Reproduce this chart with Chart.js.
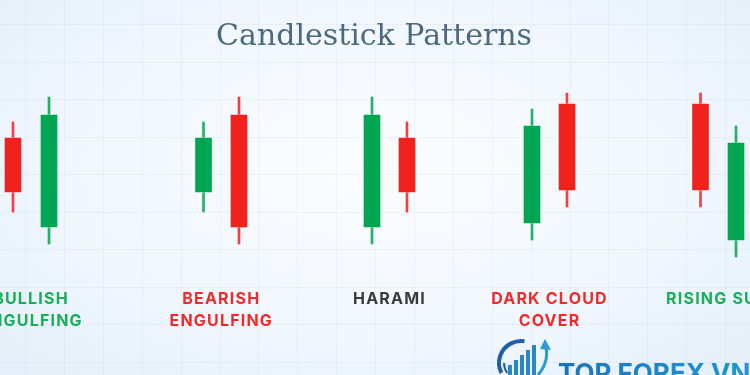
<!DOCTYPE html>
<html lang="en">
<head>
    <meta charset="UTF-8">
    <title>Candlestick Patterns</title>
    <script src="https://cdn.jsdelivr.net/npm/chart.js"></script>
    <style>
        html, body { margin: 0; padding: 0; }
        body {
            width: 750px; height: 375px; overflow: hidden;
            background: radial-gradient(ellipse at 50% 45%, #fbfdff 0%, #f1f7fd 55%, #e4eff9 100%);
        }
        #wrap { width: 750px; height: 375px; position: relative; }
    </style>
</head>
<body>
<div id="wrap"><canvas id="candles"></canvas></div>
<script>
    // session positions and prices (price = height above bottom edge)
    const sessions = [13, 49, 203.5, 239, 372, 407, 532, 567, 700.5, 736];
    const openPrices  = [238, 147, 182, 261, 147, 238, 151, 272, 272, 134];
    const closePrices = [182, 261, 238, 147, 261, 182, 250, 184, 184, 233];
    const highPrices  = [253, 278, 253, 278, 278, 253, 266, 282, 282, 249];
    const lowPrices   = [163, 131, 163, 131, 131, 163, 135, 168, 168, 118];

    // pattern labels, one per pair of candles
    const patternNames = [['BULLISH', 'ENGULFING'], ['BEARISH', 'ENGULFING'], ['HARAMI'], ['DARK CLOUD', 'COVER'], ['RISING SUN']];
    const patternColors = ['#1aae58', '#f02a2a', '#3a3a3a', '#f02a2a', '#1aae58'];

    const GREEN = '#00a651';
    const RED = '#f0221d';
    const candleColor = sessions.map((s, i) => closePrices[i] > openPrices[i] ? GREEN : RED);
    const wickColor = sessions.map((s, i) => closePrices[i] > openPrices[i] ? '#25b066' : '#f24040');

    const background = {
        id: 'background',
        beforeDraw(chart) {
            const ctx = chart.ctx;
            ctx.save();
            ctx.strokeStyle = 'rgba(190, 210, 228, 0.2)';
            ctx.lineWidth = 1;
            for (let x = 25; x < 750; x += 38.9) {
                ctx.beginPath(); ctx.moveTo(Math.round(x) + 0.5, 0); ctx.lineTo(Math.round(x) + 0.5, 375); ctx.stroke();
            }
            for (let y = 174 - 37.5 * 5; y < 375; y += 37.5) {
                ctx.beginPath(); ctx.moveTo(0, Math.round(y) + 0.5); ctx.lineTo(750, Math.round(y) + 0.5); ctx.stroke();
            }
            ctx.restore();
        }
    };

    const captions = {
        id: 'captions',
        afterDraw(chart) {
            const ctx = chart.ctx;
            const xs = chart.scales.x;
            ctx.save();
            // title
            ctx.fillStyle = '#4b6a80';
            ctx.font = '500 30px "DejaVu Serif"';
            ctx.textAlign = 'center';
            ctx.textBaseline = 'alphabetic';
            ctx.fillText('Candlestick Patterns', 374, 45);

            // pattern labels
            ctx.font = 'bold 16px Inter';
            ctx.letterSpacing = '1.2px';
            patternNames.forEach((lines, p) => {
                const cx = xs.getPixelForValue((sessions[2 * p] + sessions[2 * p + 1]) / 2);
                ctx.fillStyle = patternColors[p];
                lines.forEach((t, k) => ctx.fillText(t, cx, 304 + k * 22));
            });

            // logo
            ctx.letterSpacing = '0px';
            ctx.strokeStyle = '#1f5fa8';
            ctx.lineWidth = 4;
            ctx.beginPath();
            ctx.arc(521, 363, 22, Math.PI * 0.85, Math.PI * 1.55);
            ctx.stroke();
            ctx.lineWidth = 2;
            ctx.beginPath();
            ctx.arc(521, 363, 17, Math.PI * 0.8, Math.PI * 1.0);
            ctx.stroke();
            ctx.fillStyle = '#2a86c8';
            ctx.fillRect(508, 365, 4, 10);
            ctx.fillRect(514, 360, 4, 15);
            ctx.fillRect(520, 355, 4, 20);
            ctx.fillRect(526, 350, 4, 25);
            ctx.fillRect(532, 345, 4, 30);
            ctx.strokeStyle = '#2a9ad6';
            ctx.lineWidth = 3;
            ctx.beginPath();
            ctx.moveTo(538, 375); ctx.quadraticCurveTo(549, 362, 546, 348); ctx.stroke();
            ctx.fillStyle = '#2a9ad6';
            ctx.beginPath();
            ctx.moveTo(545, 339); ctx.lineTo(551, 350); ctx.lineTo(540, 349); ctx.closePath(); ctx.fill();
            const grad = ctx.createLinearGradient(558, 0, 750, 0);
            grad.addColorStop(0, '#1c74bb');
            grad.addColorStop(1, '#2196d3');
            ctx.fillStyle = grad;
            ctx.font = 'bold 26px Inter';
            ctx.textAlign = 'left';
            ctx.fillText('TOP FOREX VN', 558, 382);
            ctx.restore();
        }
    };

    new Chart(document.getElementById('candles').getContext('2d'), {
        type: 'bar',
        data: {
            datasets: [{
                label: 'Body',
                data: sessions.map((s, i) => ({ x: s, y: [openPrices[i], closePrices[i]] })),
                backgroundColor: candleColor,
                borderColor: 'rgba(255,255,255,0.35)',
                borderWidth: 1,
                borderSkipped: false,
                barThickness: 18,
                grouped: false,
                order: 0
            }, {
                label: 'Wick',
                data: sessions.map((s, i) => ({ x: s, y: [lowPrices[i], highPrices[i]] })),
                backgroundColor: wickColor,
                borderWidth: 0,
                barThickness: 2,
                grouped: false,
                order: 1
            }]
        },
        options: {
            responsive: true,
            maintainAspectRatio: false,
            animation: false,
            layout: { padding: 0 },
            plugins: { legend: { display: false }, tooltip: { enabled: false } },
            scales: {
                x: { type: 'linear', min: 0, max: 750, offset: false, display: false },
                y: { min: 0, max: 375, display: false }
            }
        },
        plugins: [background, captions]
    });
</script>
</body>
</html>
